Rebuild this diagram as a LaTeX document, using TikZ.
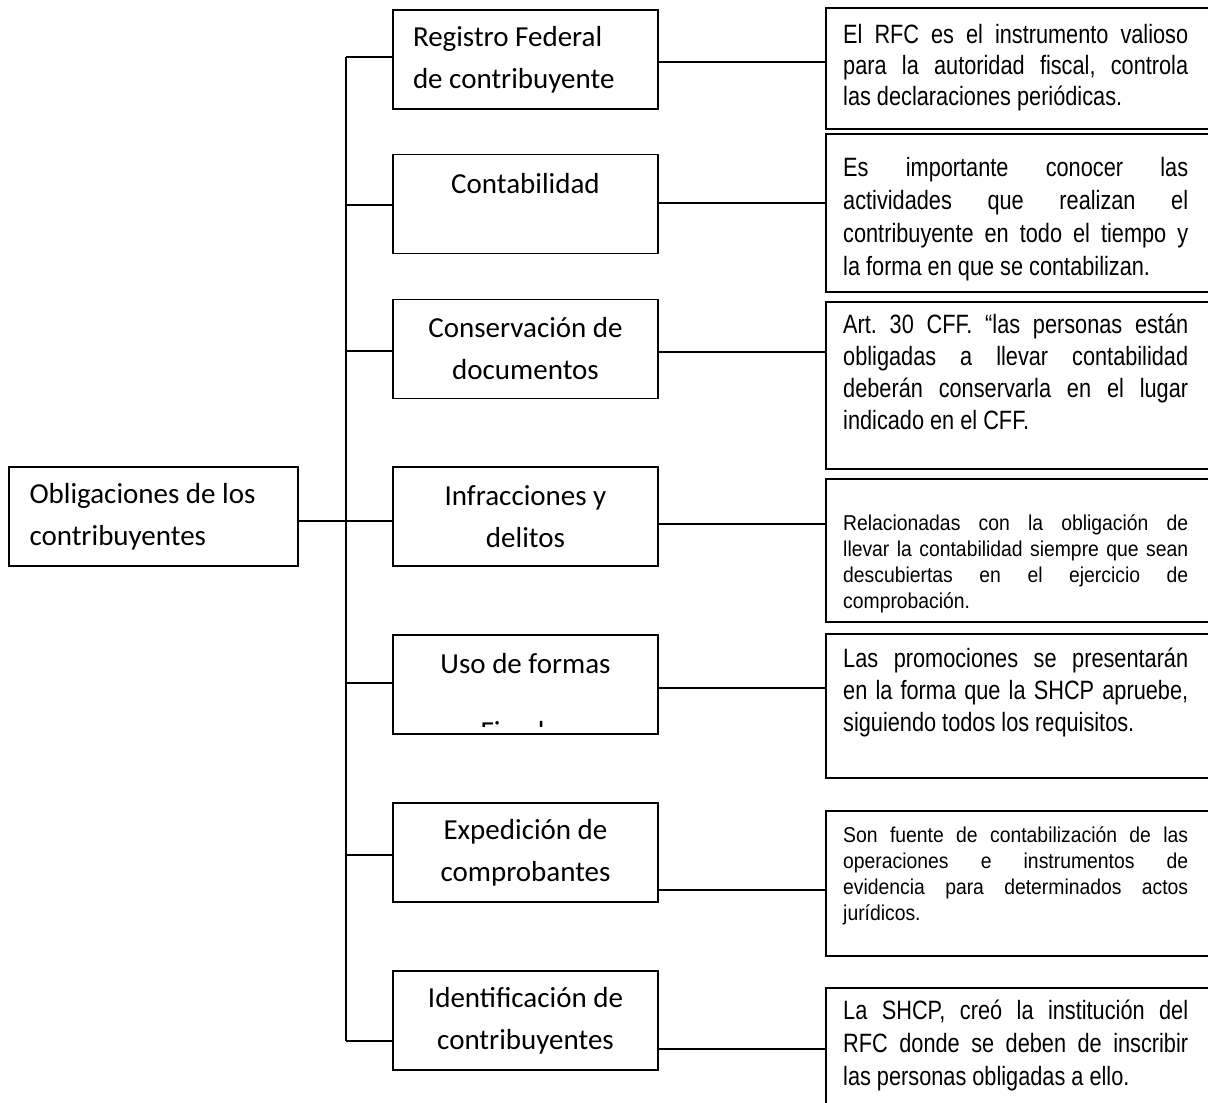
\documentclass[tikz,border=0pt]{standalone}
\usepackage{fontspec}
\setmainfont{Carlito}
\newfontfamily\narrowfont[FakeStretch=0.82]{Liberation Sans}
\newfontfamily\smallfont[FakeStretch=0.9]{Liberation Sans}
\frenchspacing
\newcommand\justline[1]{\makebox[345pt][s]{\spaceskip=0pt\xspaceskip=0pt #1}}
\begin{document}
\begin{tikzpicture}[x=1pt,y=-1pt,
  every node/.style={execute at begin node={\spaceskip=0pt\xspaceskip=0pt}},
  conn/.style={line width=1.8pt},
  lbox/.style={draw, line width=1.8pt, minimum width=265pt, minimum height=99pt, inner sep=0pt, font=\fontsize{29}{42}\selectfont, align=center},
  rootbox/.style={lbox, minimum width=289pt},
  rbox/.style={draw, line width=2.4pt, minimum width=384pt, anchor=north west, inner sep=0pt},
  rtext/.style={anchor=north west, inner sep=0pt, text width=345pt, align=left, font=\narrowfont\fontsize{26.5}{32}\selectfont},
  rsmall/.style={rtext, font=\smallfont\fontsize{21.5}{26}\selectfont}]
\fill[white] (0,0) rectangle (1208,1103);
\useasboundingbox (0,0) rectangle (1208,1103);

% root
\node[rootbox, text width=248pt, align=left] (root) at (153.5,516.5) {Obligaciones de los\\contribuyentes};

% left column
\node[lbox, text width=225pt, align=left] (reg) at (525.5,59.5) {Registro Federal\\de contribuyente};
\node[lbox] (con) at (525.5,204) {Contabilidad\\\mbox{}};
\node[lbox] (cons) at (525.5,349) {Conservación de\\documentos};
\node[lbox] (inf) at (525.5,516.5) {Infracciones y\\delitos};
\node[lbox] (uso) at (525.5,684.5) {Uso de formas\\\mbox{}};
\begin{scope}
  \clip (395,637) rectangle (656,726);
  \node[inner sep=0pt, anchor=base, font=\fontsize{29}{42}\selectfont] (usof) at (525.5,741) {Fiscales};
\end{scope}
\node[lbox] (exp) at (525.5,852.5) {Expedición de\\comprobantes};
\node[lbox] (ide) at (525.5,1020.5) {Identificación de\\contribuyentes};

% right boxes
\node[rbox, minimum height=121pt] (r1) at (825,7) {};
\node[rbox, minimum height=158pt] (r2) at (825,133) {};
\node[rbox, minimum height=167pt] (r3) at (825,301) {};
\node[rbox, minimum height=143pt] (r4) at (825,478) {};
\node[rbox, minimum height=144pt] (r5) at (825,633) {};
\node[rbox, minimum height=145pt] (r6) at (825,810) {};
\node[rbox, minimum height=130pt] (r7) at (825,987) {};

% right texts
\node[rtext, font=\narrowfont\fontsize{26.5}{31}\selectfont] (r1t) at (843,24.5) {\justline{El RFC es el instrumento valioso}\\\justline{para la autoridad fiscal, controla}\\las declaraciones periódicas.};
\node[rtext, font=\narrowfont\fontsize{26.5}{33}\selectfont] (r2t) at (843,157) {\justline{Es importante conocer las}\\\justline{actividades que realizan el}\\\justline{contribuyente en todo el tiempo y}\\la forma en que se contabilizan.};
\node[rtext] (r3t) at (843,314) {\justline{Art. 30 CFF. “las personas están}\\\justline{obligadas a llevar contabilidad}\\\justline{deberán conservarla en el lugar}\\indicado en el CFF.};
\node[rsmall] (r4t) at (843,514) {\justline{Relacionadas con la obligación de}\\\justline{llevar la contabilidad siempre que sean}\\\justline{descubiertas en el ejercicio de}\\comprobación.};
\node[rtext] (r5t) at (843,648) {\justline{Las promociones se presentarán}\\\justline{en la forma que la SHCP apruebe,}\\siguiendo todos los requisitos.};
\node[rsmall] (r6t) at (843,826) {\justline{Son fuente de contabilización de las}\\\justline{operaciones e instrumentos de}\\\justline{evidencia para determinados actos}\\jurídicos.};
\node[rtext, font=\narrowfont\fontsize{26.5}{33}\selectfont] (r7t) at (843,1000) {\justline{La SHCP, creó la institución del}\\\justline{RFC donde se deben de inscribir}\\las personas obligadas a ello.};

% trunk
\coordinate (t1) at (346,57);
\coordinate (t2) at (346,205);
\coordinate (t3) at (346,351);
\coordinate (t4) at (346,521);
\coordinate (t5) at (346,683);
\coordinate (t6) at (346,855);
\coordinate (t7) at (346,1041);
\draw[conn] (t1) -- (t7);
\draw[conn] (t1) -- (reg.west |- t1);
\draw[conn] (t2) -- (con.west |- t2);
\draw[conn] (t3) -- (cons.west |- t3);
\draw[conn] (root.east |- t4) -- (inf.west |- t4);
\draw[conn] (t5) -- (uso.west |- t5);
\draw[conn] (t6) -- (exp.west |- t6);
\draw[conn] (t7) -- (ide.west |- t7);

% left to right connectors
\draw[conn] (reg.east |- 0,62) -- (r1.west |- 0,62);
\draw[conn] (con.east |- 0,203) -- (r2.west |- 0,203);
\draw[conn] (cons.east |- 0,352) -- (r3.west |- 0,352);
\draw[conn] (inf.east |- 0,524) -- (r4.west |- 0,524);
\draw[conn] (uso.east |- 0,688) -- (r5.west |- 0,688);
\draw[conn] (exp.east |- 0,890) -- (r6.west |- 0,890);
\draw[conn] (ide.east |- 0,1049) -- (r7.west |- 0,1049);
\end{tikzpicture}
\end{document}
